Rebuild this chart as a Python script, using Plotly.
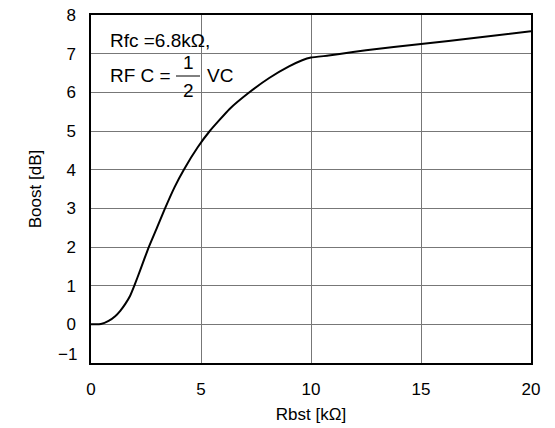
import plotly.graph_objects as go

# Data
rbst_k = [0, 0.2, 0.45, 0.8, 1.1, 1.33, 1.56, 1.78, 1.97, 2.25, 2.6, 3.0, 3.35, 3.8, 4.22,
          4.85, 5.4, 6.3, 7.2, 8.1, 9.0, 9.6, 10.0, 10.8, 11.3, 12.5, 15, 17.5, 20]
boost_db = [0, 0, 0.01, 0.09, 0.21, 0.35, 0.53, 0.74, 1.0, 1.42, 1.96, 2.5, 2.98, 3.55, 4.0,
            4.58, 5.0, 5.57, 6.0, 6.37, 6.67, 6.83, 6.9, 6.95, 6.99, 7.09, 7.25, 7.41, 7.58]
x_ticks = [0, 5, 10, 15, 20]
y_ticks = [-1, 0, 1, 2, 3, 4, 5, 6, 7, 8]
y_tick_text = ["", "0", "1", "2", "3", "4", "5", "6", "7", "8"]

W, H = 555, 428
L, R, T, B = 91, 24, 15, 65
PW, PH = W - L - R, H - T - B

def px(x):
    return (x - L) / PW

def py(y):
    return (H - B - y) / PH

FONT = "Liberation Sans, Arial, sans-serif"

fig = go.Figure()
fig.add_trace(go.Scatter(x=rbst_k, y=boost_db, mode="lines",
                         line=dict(color="black", width=2, shape="spline", smoothing=0.4),
                         showlegend=False, hoverinfo="skip"))

axis_common = dict(showline=True, linecolor="black", linewidth=1.5, mirror=True,
                   showgrid=True, gridcolor="#777777", gridwidth=1, zeroline=False,
                   ticks="", automargin=False,
                   tickfont=dict(family=FONT, size=17, color="black"),
                   title_font=dict(family=FONT, size=17, color="black"))

fig.update_xaxes(range=[0, 20], tickvals=x_ticks, title_text="Rbst [kΩ]",
                 ticklabelstandoff=10, title_standoff=10, **axis_common)
fig.update_yaxes(range=[-1, 8], tickvals=y_ticks, ticktext=y_tick_text,
                 title_text="Boost [dB]",
                 ticklabelstandoff=10, title_standoff=20, **axis_common)

# lifted "−1" tick label as in the reference
fig.add_annotation(text="−1", xref="paper", yref="paper", x=px(79), y=py(354),
                   xanchor="right", yanchor="middle", showarrow=False,
                   font=dict(family=FONT, size=17, color="black"))

# white label box (between grid and curve)
fig.add_shape(type="rect", xref="paper", yref="paper",
              x0=px(103), x1=px(238), y0=py(103), y1=py(25),
              fillcolor="white", line=dict(width=0), layer="between")
# fraction bar
fig.add_shape(type="line", xref="paper", yref="paper",
              x0=px(176), x1=px(200), y0=py(76), y1=py(76),
              line=dict(color="black", width=1), layer="above")

ann_font = dict(family=FONT, size=19, color="black")
def ann(text, x, y, xanchor="left"):
    fig.add_annotation(text=text, xref="paper", yref="paper", x=px(x), y=py(y),
                       xanchor=xanchor, yanchor="middle", showarrow=False, font=ann_font)

ann("Rfc =6.8kΩ,", 108, 41)
ann("RF C =", 108, 75)
ann("1", 188, 62, "center")
ann("2", 188, 90, "center")
ann("VC", 205, 75)

fig.update_layout(width=W, height=H, margin=dict(l=L, r=R, t=T, b=B),
                  paper_bgcolor="white", plot_bgcolor="white",
                  font=dict(family=FONT, color="black"))

fig.write_html("out.html", config={"displayModeBar": False},
               post_script="document.body.style.margin='0';document.body.style.overflow='hidden';")
